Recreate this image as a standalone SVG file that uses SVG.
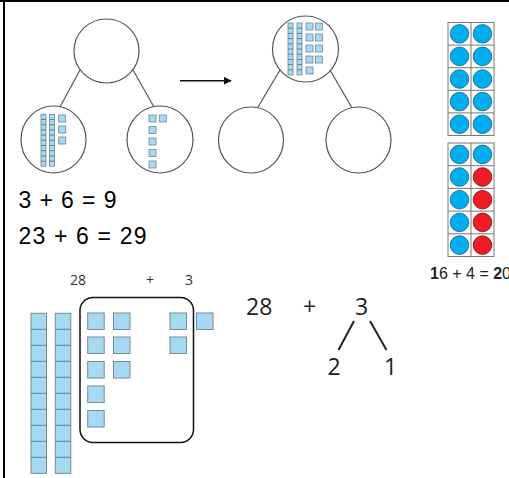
<svg xmlns="http://www.w3.org/2000/svg" width="509" height="478" viewBox="0 0 509 478">
<style>
.c{fill:none;stroke:#555;stroke-width:1.2}
.l{stroke:#555;stroke-width:1.2;fill:none}
.b{fill:#a6d9f3;stroke:#6f8590;stroke-width:0.8}
.bb{fill:#a6d9f3;stroke:#7a8a92;stroke-width:1}
.div{stroke:#5a6e78;stroke-width:0.8}
.cell{fill:#fff;stroke:#777;stroke-width:1}
.bl{fill:#00aeef;stroke:#1c5e78;stroke-width:0.8}
.rd{fill:#ee1c25;stroke:#7a1010;stroke-width:0.8}
.eq{font-family:"Liberation Sans",Arial,sans-serif;font-size:23px;fill:#000}
.sm{font-family:"Open Sans","Liberation Sans",sans-serif;font-size:14px;fill:#333}
.md{font-family:"Open Sans","Liberation Sans",sans-serif;font-size:23px;fill:#222}
</style>
<defs>
<g id="rod">
<rect class="b" x="0" y="0" width="5" height="52"/>
<path class="div" d="M0 5.2H5M0 10.4H5M0 15.6H5M0 20.8H5M0 26H5M0 31.2H5M0 36.4H5M0 41.6H5M0 46.8H5"/>
</g>
<rect id="o" class="b" width="7" height="7"/>
<rect id="O" class="bb" width="16.5" height="16.5"/>
<g id="rodL">
<rect class="bb" x="0" y="0" width="15.5" height="160"/>
<path class="div" stroke-width="1" d="M0 16H15.5M0 32H15.5M0 48H15.5M0 64H15.5M0 80H15.5M0 96H15.5M0 112H15.5M0 128H15.5M0 144H15.5"/>
</g>
<marker id="ah" viewBox="0 0 10 10" refX="9" refY="5" markerWidth="8" markerHeight="8" markerUnits="userSpaceOnUse" orient="auto">
<path d="M0 0L10 5L0 10Z" fill="#111"/>
</marker>
</defs>
<rect x="0" y="0" width="509" height="478" fill="#fff"/>
<g id="border">
<rect x="0" y="0" width="509" height="2" fill="#000"/>
<rect x="3" y="0" width="2" height="478" fill="#000"/>
</g>

<g id="connectors">
<line class="l" x1="80" y1="70" x2="60" y2="107"/>
<line class="l" x1="133" y1="70" x2="154" y2="107"/>
<line class="l" x1="280" y1="70" x2="258" y2="107"/>
<line class="l" x1="330" y1="70" x2="351.5" y2="107"/>
<line x1="180" y1="80.7" x2="231" y2="80.7" stroke="#111" stroke-width="1.5" marker-end="url(#ah)"/>
<line x1="354" y1="321" x2="338.5" y2="350" stroke="#222" stroke-width="2"/>
<line x1="370" y1="321" x2="386.5" y2="350" stroke="#222" stroke-width="2"/>
</g>

<g id="tree1-top"><ellipse class="c" cx="106.5" cy="51" rx="32.5" ry="32"/></g>
<g id="tree1-left">
<ellipse class="c" cx="53.5" cy="139.5" rx="32.5" ry="33.5"/>
<use href="#rod" x="41" y="114.3"/>
<use href="#rod" x="49.5" y="114.3"/>
<use href="#o" x="58.7" y="115"/>
<use href="#o" x="58.7" y="126"/>
<use href="#o" x="58.7" y="137"/>
</g>
<g id="tree1-right">
<ellipse class="c" cx="160" cy="139.5" rx="33" ry="33.5"/>
<use href="#o" x="149" y="115"/>
<use href="#o" x="159.3" y="115"/>
<use href="#o" x="149" y="126.5"/>
<use href="#o" x="149" y="138"/>
<use href="#o" x="149" y="149.5"/>
<use href="#o" x="149" y="161"/>
</g>

<g id="tree2-top">
<ellipse class="c" cx="305.5" cy="49" rx="33" ry="33"/>
<use href="#rod" x="288" y="23"/>
<use href="#rod" x="297" y="23"/>
<use href="#o" x="306" y="23"/><use href="#o" x="315.5" y="23"/>
<use href="#o" x="306" y="34"/><use href="#o" x="315.5" y="34"/>
<use href="#o" x="306" y="45"/><use href="#o" x="315.5" y="45"/>
<use href="#o" x="306" y="56"/><use href="#o" x="315.5" y="56"/>
<use href="#o" x="306" y="67"/>
</g>
<g id="tree2-left"><ellipse class="c" cx="251" cy="140" rx="32.5" ry="33"/></g>
<g id="tree2-right"><ellipse class="c" cx="358.5" cy="140" rx="32.5" ry="33"/></g>

<g id="eq1"><text class="eq" x="18.5" y="208" textLength="98" lengthAdjust="spacing">3 + 6 = 9</text></g>
<g id="eq2"><text class="eq" x="18.5" y="244" textLength="128" lengthAdjust="spacing">23 + 6 = 29</text></g>

<g id="tenframe1">
<rect class="cell" x="448" y="22.5" width="46" height="113"/>
<path stroke="#777" stroke-width="1" d="M471 22.5V135.5M448 45.1H494M448 67.7H494M448 90.3H494M448 112.9H494"/>
<circle class="bl" cx="459.5" cy="33.8" r="9.3"/><circle class="bl" cx="482.5" cy="33.8" r="9.3"/>
<circle class="bl" cx="459.5" cy="56.4" r="9.3"/><circle class="bl" cx="482.5" cy="56.4" r="9.3"/>
<circle class="bl" cx="459.5" cy="79" r="9.3"/><circle class="bl" cx="482.5" cy="79" r="9.3"/>
<circle class="bl" cx="459.5" cy="101.6" r="9.3"/><circle class="bl" cx="482.5" cy="101.6" r="9.3"/>
<circle class="bl" cx="459.5" cy="124.2" r="9.3"/><circle class="bl" cx="482.5" cy="124.2" r="9.3"/>
</g>
<g id="tenframe2">
<rect class="cell" x="448" y="143" width="46" height="113.5"/>
<path stroke="#777" stroke-width="1" d="M471 143V256.5M448 165.7H494M448 188.4H494M448 211.1H494M448 233.8H494"/>
<circle class="bl" cx="459.5" cy="154.4" r="9.3"/><circle class="bl" cx="482.5" cy="154.4" r="9.3"/>
<circle class="bl" cx="459.5" cy="177" r="9.3"/><circle class="rd" cx="482.5" cy="177" r="9.3"/>
<circle class="bl" cx="459.5" cy="199.7" r="9.3"/><circle class="rd" cx="482.5" cy="199.7" r="9.3"/>
<circle class="bl" cx="459.5" cy="222.4" r="9.3"/><circle class="rd" cx="482.5" cy="222.4" r="9.3"/>
<circle class="bl" cx="459.5" cy="245.1" r="9.3"/><circle class="rd" cx="482.5" cy="245.1" r="9.3"/>
</g>
<g id="tf-label"><text x="430" y="279" font-family="'Liberation Sans',Arial,sans-serif" font-size="16" fill="#222"><tspan font-weight="bold">1</tspan>6 + 4 = <tspan font-weight="bold">2</tspan>0</text></g>

<g id="labels-small">
<text class="sm" x="70" y="285">28</text>
<text class="sm" x="146" y="285">+</text>
<text class="sm" x="185" y="285">3</text>
</g>
<g id="tens">
<use href="#rodL" x="31" y="313.3"/>
<use href="#rodL" x="55.3" y="313.3"/>
</g>
<g id="group-box">
<rect x="80" y="297.5" width="113.5" height="145" rx="13" fill="none" stroke="#111" stroke-width="1.5"/>
<use href="#O" x="87.7" y="313"/><use href="#O" x="113.5" y="313"/>
<use href="#O" x="87.7" y="337"/><use href="#O" x="113.5" y="337"/>
<use href="#O" x="87.7" y="361.5"/><use href="#O" x="113.5" y="361.5"/>
<use href="#O" x="87.7" y="386"/>
<use href="#O" x="87.7" y="410.5"/>
<use href="#O" x="170" y="313"/>
<use href="#O" x="170" y="337"/>
</g>
<g id="extra-one"><use href="#O" x="196.5" y="313"/></g>

<g id="n28"><text class="md" x="246" y="315">28</text></g>
<g id="nplus"><text class="md" x="303" y="315">+</text></g>
<g id="n3"><text class="md" x="355" y="315">3</text></g>
<g id="n2"><text class="md" x="327.5" y="375">2</text></g>
<g id="n1"><text class="md" x="384" y="375">1</text></g>
</svg>
